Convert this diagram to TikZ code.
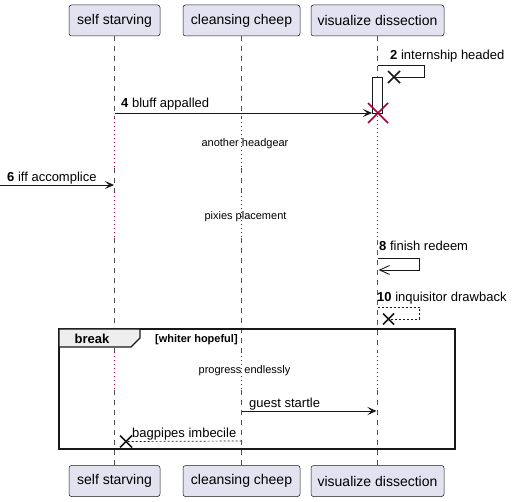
\documentclass[tikz,border=0pt]{standalone}
\usepackage{fontspec}
\setmainfont{Liberation Sans}
\usetikzlibrary{arrows.meta}
\definecolor{pbox}{HTML}{E2E2F0}
\definecolor{pline}{HTML}{181818}
\definecolor{pred}{HTML}{A80036}
\definecolor{ptab}{HTML}{EEEEEE}
\begin{document}
\begin{tikzpicture}[x=1pt,y=-1pt,
  part/.style={draw=pline, fill=pbox, rounded corners=2.5pt, line width=0.5pt,
    minimum height=31pt, inner sep=0pt, font=\fontsize{14}{16}\selectfont},
  life/.style={draw=pline!75, dash pattern=on 5pt off 5pt, line width=0.5pt},
  delayline/.style={draw=pred, dash pattern=on 1pt off 3pt, line width=0.8pt},
  msg/.style={draw=pline, line width=0.9pt},
  ret/.style={draw=pline, line width=0.9pt, dash pattern=on 2pt off 2pt},
  tip/.style={-{Stealth[length=9pt,width=8pt,inset=4pt]}},
  opentip/.style={-{Straight Barb[length=10pt,width=9pt,line width=0.9pt]}},
  lbl/.style={anchor=base west, inner sep=0pt, font=\fontsize{13}{15}\selectfont},
  dlbl/.style={anchor=base, inner sep=0pt, font=\fontsize{11}{13}\selectfont},
  xmark/.style={draw=pline, line width=1.6pt},
  rmark/.style={draw=pred, line width=1.6pt},
]
\useasboundingbox (0,0) rectangle (519,502);

% participants
\node[part, minimum width=91pt] (sA) at (114.5,20.5) {self starving};
\node[part, minimum width=117pt] (sB) at (241.5,20.5) {cleansing cheep};
\node[part, minimum width=133pt] (sC) at (377.5,20.5) {visualize dissection};
\node[part, minimum width=91pt] (bA) at (114.5,481) {self starving};
\node[part, minimum width=117pt] (bB) at (241.5,481) {cleansing cheep};
\node[part, minimum width=133pt] (bC) at (377.5,481) {visualize dissection};

% lifelines
\foreach \n in {A,B}{
  \foreach \a/\b in {36/118,168/192,238/352,390/465}
    \draw[life] (s\n |- 0,\a) -- (s\n |- 0,\b);
  \foreach \a/\b in {118/168,192/238,352/390}
    \draw[delayline] (s\n |- 0,\a) -- (s\n |- 0,\b);
}
\foreach \a/\b in {36/113,240/352,390/465}
  \draw[life] (sC |- 0,\a) -- (sC |- 0,\b);
\foreach \a/\b in {116/240,352/390}
  \draw[delayline] (sC |- 0,\a) -- (sC |- 0,\b);

% break frame
\draw[line width=1.5pt, draw=pline] (59,329) rectangle (455,449);
\draw[line width=1.2pt, draw=pline, fill=ptab] (59,329) -- (140,329) -- (140,338) -- (131,347) -- (59,347) -- cycle;
\node[anchor=base, inner sep=0pt, font=\fontsize{13}{15}\selectfont\bfseries] (brk) at (92,344) {break};
\node[anchor=base west, inner sep=0pt, font=\fontsize{11}{13}\selectfont\bfseries] (grd) at (155,342) {[whiter hopeful]};

% message 2 (self, lost)
\coordinate (m2a) at (377.5,65);
\coordinate (m2x) at (394,77);
\draw[msg] (m2a) -- (424,65) -- (424,77) -- (m2x);
\draw[xmark] (m2x) ++(-6,-6) -- ++(12,12) (m2x) ++(-6,6) -- ++(12,-12);
\node[lbl] (l2) at (390,60) {\textbf{2} internship headed};

% activation bar
\draw[draw=pline, fill=white, line width=0.9pt] (372,77) rectangle (382,113);

% message 4
\coordinate (m4a) at (114.5,113);
\coordinate (m4b) at (372,113);
\draw[msg, tip] (m4a) -- (m4b);
\node[lbl] (l4) at (121,108) {\textbf{4} bluff appalled};
\coordinate (dx) at (378,113);
\draw[rmark] (dx) ++(-10,-10) -- ++(20,20) (dx) ++(-10,10) -- ++(20,-20);

% delay 1
\node[dlbl] (d1) at (245,147) {another headgear};

% message 6
\coordinate (m6a) at (0,185);
\coordinate (m6b) at (114,185);
\draw[msg, tip] (m6a) -- (m6b);
\node[lbl] (l6) at (7,182) {\textbf{6} iff accomplice};

% delay 2
\node[dlbl] (d2) at (245.5,219.5) {pixies placement};

% message 8 (self, async)
\coordinate (m8a) at (377.5,258);
\coordinate (m8b) at (378.5,270);
\draw[msg, opentip] (m8a) -- (419,258) -- (419,270) -- (m8b);
\node[lbl] (l8) at (379,251) {\textbf{8} finish redeem};

% message 10 (self, dashed, lost)
\coordinate (m10a) at (377.5,307);
\coordinate (m10x) at (388.5,319);
\draw[ret, line width=0.7pt] (m10a) -- (419,307) -- (419,319) -- (m10x);
\draw[xmark] (m10x) ++(-5.5,-5.5) -- ++(11,11) (m10x) ++(-5.5,5.5) -- ++(11,-11);
\node[lbl] (l10) at (377,302) {\textbf{10} inquisitor drawback};

% delay 3
\node[dlbl] (d3) at (244.5,373) {progress endlessly};

% guest startle
\coordinate (m11a) at (241.5,411);
\coordinate (m11b) at (376.5,411);
\draw[msg, tip] (m11a) -- (m11b);
\node[lbl] (l11) at (249,407) {guest startle};

% bagpipes imbecile
\coordinate (m12a) at (241.5,441);
\coordinate (m12x) at (126,441.5);
\draw[ret, line width=0.7pt] (m12a) -- (m12x);
\draw[xmark] (m12x) ++(-6,-6) -- ++(12,12) (m12x) ++(-6,6) -- ++(12,-12);
\node[lbl] (l12) at (132,437.5) {bagpipes imbecile};
\end{tikzpicture}
\end{document}
